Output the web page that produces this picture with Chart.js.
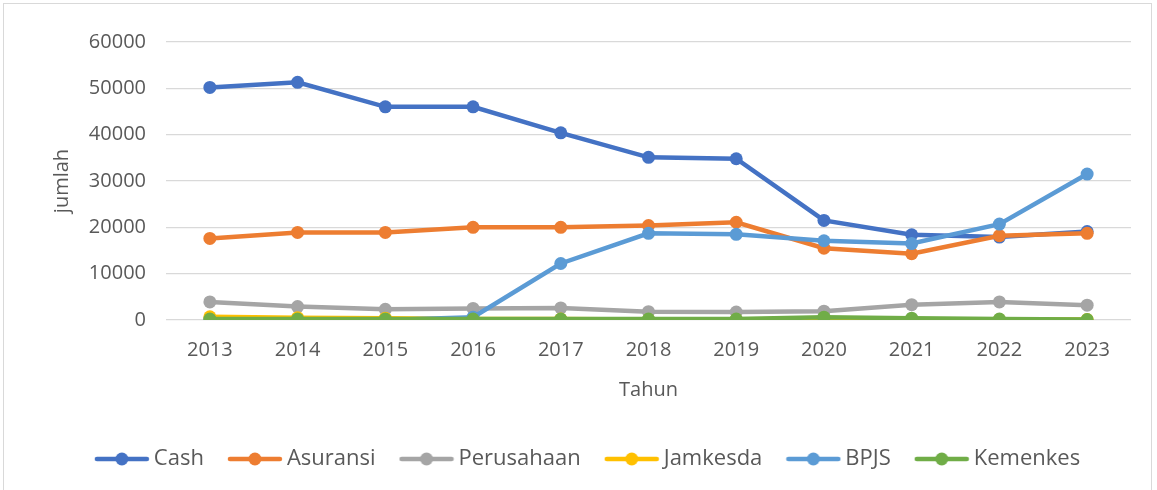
<!DOCTYPE html>
<html>
<head>
<meta charset="utf-8">
<script src="https://cdn.jsdelivr.net/npm/chart.js@4.4.1/dist/chart.umd.min.js"></script>
<style>
  html, body { margin: 0; padding: 0; background: #fff; }
  #wrap { position: relative; width: 1157px; height: 490px; }
  #frame { position: absolute; left: 3px; top: 3px; width: 1149px; height: 490px; border: 1px solid #d9d9d9; box-sizing: border-box; pointer-events: none; }
</style>
</head>
<body>
<div id="wrap">
  <canvas id="chart" width="1157" height="490"></canvas>
  <div id="frame"></div>
</div>
<script>
const years = ["2013", "2014", "2015", "2016", "2017", "2018", "2019", "2020", "2021", "2022", "2023"];
const cash = [50200, 51300, 46000, 46000, 40400, 35100, 34800, 21500, 18400, 17900, 19100];
const asuransi = [17600, 18900, 18900, 20000, 20000, 20400, 21100, 15500, 14300, 18200, 18700];
const perusahaan = [3900, 2900, 2300, 2500, 2600, 1800, 1700, 1900, 3300, 3900, 3200];
const jamkesda = [700, 500, 400, 200, 200, 100, 100, 0, 100, 100, 100];
const bpjs = [0, 0, 0, 600, 12200, 18700, 18500, 17100, 16500, 20700, 31500];
const kemenkes = [200, 200, 200, 200, 200, 200, 200, 600, 400, 200, 100];

const names = ["Cash", "Asuransi", "Perusahaan", "Jamkesda", "BPJS", "Kemenkes"];
const series = [cash, asuransi, perusahaan, jamkesda, bpjs, kemenkes];
const colors = ["#4472C4", "#ED7D31", "#A5A5A5", "#FFC000", "#5B9BD5", "#70AD47"];

const FONT = "'Open Sans', sans-serif";
const TXT = "#595959";
const LEFT_PAD = 50;

// legend marker: short line with a dot in the middle
function marker(color) {
  const c = document.createElement("canvas");
  c.width = 56; c.height = 14;
  const g = c.getContext("2d");
  g.strokeStyle = color; g.lineWidth = 4.5; g.lineCap = "round";
  g.beginPath(); g.moveTo(3, 7); g.lineTo(53, 7); g.stroke();
  g.fillStyle = color;
  g.beginPath(); g.arc(28, 7, 6.5, 0, Math.PI * 2); g.fill();
  return c;
}
const markers = colors.map(marker);

const datasets = names.map((n, i) => ({
  label: n,
  data: series[i],
  borderColor: colors[i],
  backgroundColor: colors[i],
  borderWidth: 4.5,
  pointRadius: 6.5,
  pointBorderWidth: 0,
  pointHoverRadius: 6.5,
  tension: 0,
  order: names.length - i
}));

new Chart(document.getElementById("chart"), {
  type: "line",
  data: { labels: years, datasets: datasets },
  options: {
    responsive: false,
    animation: false,
    layout: { padding: { top: 42, right: 26, bottom: 10, left: LEFT_PAD } },
    plugins: {
      tooltip: { enabled: false },
      legend: {
        position: "bottom",
        labels: {
          usePointStyle: true,
          pointStyleWidth: 42,
          padding: 30,
          color: TXT,
          font: { family: FONT, size: 22 },
          generateLabels: (chart) => names.map((n, i) => ({
            text: n,
            datasetIndex: i,
            pointStyle: markers[i],
            fillStyle: colors[i],
            strokeStyle: colors[i],
            lineWidth: 0,
            fontColor: TXT,
            hidden: false
          }))
        }
      }
    },
    scales: {
      x: {
        offset: true,
        grid: { display: false },
        border: { display: false },
        ticks: { color: TXT, font: { family: FONT, size: 20 }, padding: 10 },
        title: { display: true, text: "Tahun", color: TXT, font: { family: FONT, size: 20 }, padding: { top: 6, bottom: 16 } }
      },
      y: {
        min: 0,
        max: 60000,
        afterFit: (s) => { s.width = 166 - LEFT_PAD; },
        grid: { color: "#d9d9d9", lineWidth: 1.3, drawTicks: false },
        border: { display: false },
        ticks: { stepSize: 10000, color: TXT, font: { family: FONT, size: 20 }, padding: 20, callback: (v) => String(v) },
        title: { display: true, text: "jumlah", color: TXT, font: { family: FONT, size: 20 }, padding: { top: 0, bottom: 0 } }
      }
    }
  }
});
</script>
</body>
</html>
